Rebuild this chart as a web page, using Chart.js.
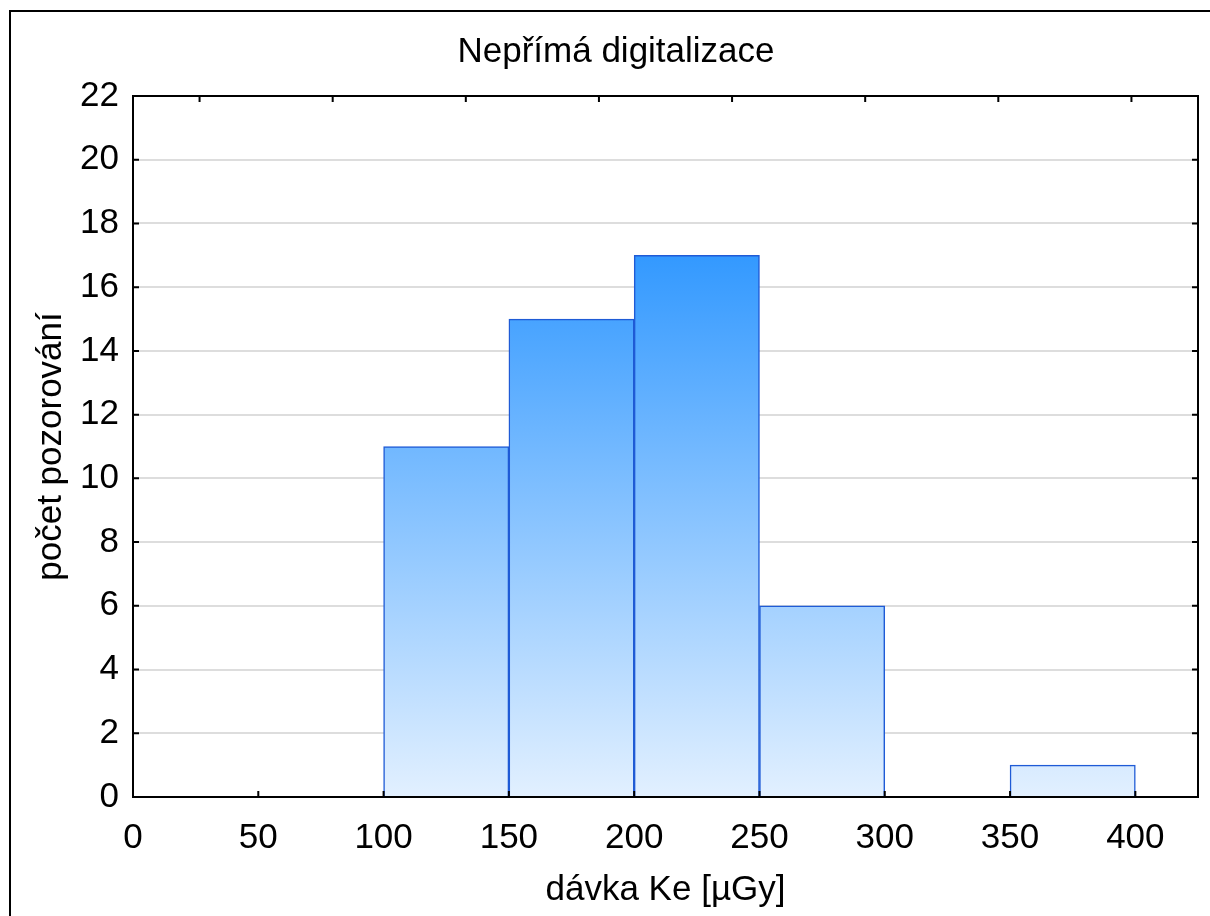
<!DOCTYPE html>
<html><head><meta charset="utf-8">
<script src="https://cdn.jsdelivr.net/npm/chart.js@4.4.1/dist/chart.umd.min.js"></script>
<style>
html,body{margin:0;padding:0;background:#fff;overflow:hidden;width:1210px;height:916px;}
#frame{position:absolute;left:9px;top:10px;width:1400px;height:1200px;border-left:2px solid #000;border-top:2px solid #000;}
#c{position:absolute;left:0;top:0;}
</style></head><body>
<div id="frame"></div>
<canvas id="c" width="1210" height="916"></canvas>
<script>
const chartTitle = 'Nepřímá digitalizace';
const xAxisTitle = 'dávka Ke [µGy]';
const yAxisTitle = 'počet pozorování';
const binStarts = [100, 150, 200, 250, 300, 350];
const binEnds   = [150, 200, 250, 300, 350, 400];
const counts    = [11, 15, 17, 6, 0, 1];
const xMin = 0, xMax = 425, xStep = 50;
const yMin = 0, yMax = 22, yStep = 2;
const topTickValues = [0.5, 1.5, 2.5, 3.5, 4.5, 5.5, 6.5, 7.5];

const FONT = 'Liberation Sans, Arial, sans-serif';
Chart.defaults.font.family = FONT;
Chart.defaults.color = '#000';

const innerTicks = {
  id: 'innerTicks',
  afterDatasetsDraw(chart) {
    const {ctx, chartArea: a, scales} = chart;
    const L = 6;
    ctx.save();
    ctx.strokeStyle = '#000';
    ctx.lineWidth = 2;
    ctx.beginPath();
    scales.y.ticks.forEach((t, i) => { const p = scales.y.getPixelForTick(i); ctx.moveTo(a.left, p); ctx.lineTo(a.left + L, p); });
    scales.y2.ticks.forEach((t, i) => { const p = scales.y2.getPixelForTick(i); ctx.moveTo(a.right, p); ctx.lineTo(a.right - L, p); });
    scales.x.ticks.forEach((t, i) => { const p = scales.x.getPixelForTick(i); ctx.moveTo(p, a.bottom); ctx.lineTo(p, a.bottom - L); });
    scales.x2.ticks.forEach((t, i) => { const p = scales.x2.getPixelForTick(i); ctx.moveTo(p, a.top); ctx.lineTo(p, a.top + L); });
    ctx.stroke();
    ctx.restore();
  }
};

function barGradient(context) {
  const chart = context.chart;
  if (!chart.chartArea) return '#80bfff';
  const ys = chart.scales.y;
  const maxCount = Math.max(...counts);
  const g = chart.ctx.createLinearGradient(0, ys.getPixelForValue(0), 0, ys.getPixelForValue(maxCount));
  g.addColorStop(0, '#e2f0ff');
  g.addColorStop(1, '#3399ff');
  return g;
}

new Chart(document.getElementById('c'), {
  type: 'bar',
  data: {
    datasets: [{
      data: binStarts.map((s, i) => ({x: (s + binEnds[i]) / 2, y: counts[i]})),
      backgroundColor: barGradient,
      borderColor: '#1f5bd6',
      borderWidth: 1.5,
      borderSkipped: 'bottom',
      barPercentage: 1,
      categoryPercentage: 1
    }]
  },
  options: {
    responsive: false,
    animation: false,
    devicePixelRatio: 1,
    layout: {padding: {left: 34, right: 12, top: 0, bottom: 0}},
    plugins: {
      legend: {display: false},
      tooltip: {enabled: false},
      title: {
        display: true, text: chartTitle, color: '#000',
        font: {size: 35, weight: 'normal', family: FONT},
        padding: {top: 31, bottom: 23}
      }
    },
    scales: {
      x: {
        type: 'linear', position: 'bottom', min: xMin, max: xMax, offset: false,
        ticks: {stepSize: xStep, includeBounds: false, font: {size: 35}, padding: 12, maxRotation: 0, color: '#000'},
        grid: {display: false, offset: false},
        border: {display: true, color: '#000', width: 2, z: 1},
        title: {display: true, text: xAxisTitle, font: {size: 35}, color: '#000', padding: {top: 0, bottom: 5}},
        afterFit(s) { s.height = 119; }
      },
      x2: {
        type: 'linear', position: 'top', min: 0, max: 8, offset: false,
        ticks: {display: false},
        afterBuildTicks(s) { s.ticks = topTickValues.map(v => ({value: v})); },
        grid: {display: false},
        border: {display: true, color: '#000', width: 2, z: 1},
        afterFit(s) { s.height = 0; }
      },
      y: {
        type: 'linear', position: 'left', min: yMin, max: yMax,
        ticks: {stepSize: yStep, font: {size: 35}, padding: 14, color: '#000'},
        grid: {display: true, color: '#dddddd', lineWidth: 2, drawTicks: false},
        border: {display: true, color: '#000', width: 2, z: 1},
        title: {display: true, text: yAxisTitle, font: {size: 35}, color: '#000', padding: {top: -4, bottom: 0}},
        afterFit(s) { s.width = 99; }
      },
      y2: {
        type: 'linear', position: 'right', min: yMin, max: yMax,
        ticks: {display: false, stepSize: yStep},
        grid: {display: false},
        border: {display: true, color: '#000', width: 2, z: 1},
        afterFit(s) { s.width = 0; }
      }
    }
  },
  plugins: [innerTicks]
});
</script>
</body></html>
